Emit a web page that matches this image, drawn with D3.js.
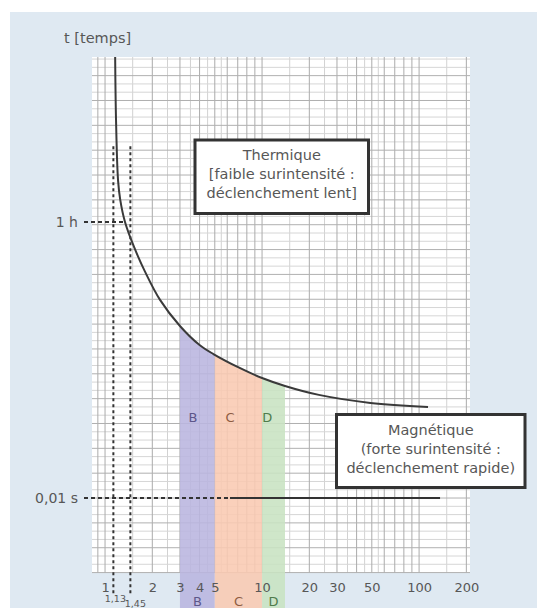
<!DOCTYPE html>
<html>
<head>
<meta charset="utf-8">
<script src="https://cdn.jsdelivr.net/npm/d3@7"></script>
<style>
body{margin:0;background:#fff}
svg{display:block}
text{font-family:"DejaVu Sans",sans-serif;fill:#575757}
</style>
</head>
<body>
<div id="chart"></div>
<script>
// courbe de declenchement : courant (multiple de In) / temps (s)
var courant = [1.16, 1.175, 1.21, 1.25, 1.34, 1.53, 1.8, 2.24, 3, 4, 4.9, 7.2, 10, 14, 23, 49, 114];
var temps   = [7.5e6, 4e5, 2.5e4, 1e4, 3600, 1130, 355, 97, 29, 12, 7.9, 4.15, 2.6, 1.8, 1.19, 0.82, 0.68];

var courbes      = ["B", "C", "D"];
var courbeMin    = [3, 5, 10];
var courbeMax    = [5, 10, 14];
var courbeLabel  = [3.63, 6.25, 10.8];
var couleurs     = ["#b9b5df", "#f9c9b2", "#c8e3c2"];
var couleursText = ["#5d578a", "#8d5c42", "#4f7b4b"];

var xTicks = [1, 2, 3, 4, 5, 10, 20, 30, 50, 100, 200];
var seuils = [1.13, 1.45];
var seuilLabels = ["1,13", "1,45"];
var yTicks = [3600, 0.01];
var yLabels = ["1 h", "0,01 s"];
var magnetique = [6.25, 136];   // partie pleine du trait 0,01 s

var W = 537, H = 608;
var svg = d3.select("#chart").append("svg")
	.attr("width", W)
	.attr("height", H);

svg.append("rect")
	.attr("x", 10).attr("y", 12)
	.attr("width", W - 10).attr("height", H - 12)
	.attr("fill", "#dfe9f2");

var x = d3.scaleLog().domain([0.826, 211]).range([92, 470]);
var y = d3.scaleLog().domain([3.1e-4, 7.5e6]).range([573, 57]);

// papier log
svg.append("rect")
	.attr("x", 92).attr("y", 57)
	.attr("width", 378).attr("height", 516)
	.attr("fill", "#fff");

function mant(d){ return d / Math.pow(10, Math.floor(Math.log10(d) + 1e-9)); }

var xMaj = x.ticks();
var xMin = [];
xMaj.forEach(function(d){
	var m = mant(d);
	if (m < 6) xMin.push(d * (m + 0.5) / m);
});
xMin = xMin.filter(function(d){ return d < 211; });

// trame horizontale : demi-decades + sixiemes
var lo = Math.log10(3.1e-4), hi = Math.log10(7.5e6);
var yMaj = [], yMin = [];
for (var k = Math.ceil(lo * 6); k <= Math.floor(hi * 6); k++) {
	if (k % 3 === 0) yMaj.push(Math.pow(10, k / 6));
	else yMin.push(Math.pow(10, k / 6));
}

var grid = svg.append("g").attr("class", "grid");
grid.selectAll(".vmin").data(xMin).enter().append("line")
	.attr("x1", d => x(d)).attr("x2", d => x(d))
	.attr("y1", 57).attr("y2", 573)
	.attr("stroke", "#d2d2d2").attr("stroke-width", 1);
grid.selectAll(".hmin").data(yMin).enter().append("line")
	.attr("y1", d => y(d)).attr("y2", d => y(d))
	.attr("x1", 92).attr("x2", 470)
	.attr("stroke", "#d6d6d6").attr("stroke-width", 1);
grid.selectAll(".vmaj").data(xMaj).enter().append("line")
	.attr("x1", d => x(d)).attr("x2", d => x(d))
	.attr("y1", 57).attr("y2", 573)
	.attr("stroke", "#ababab").attr("stroke-width", 1);
grid.selectAll(".hmaj").data(yMaj).enter().append("line")
	.attr("y1", d => y(d)).attr("y2", d => y(d))
	.attr("x1", 92).attr("x2", 470)
	.attr("stroke", "#b0b0b0").attr("stroke-width", 1);

var pts = courant.map(function(c, i){ return [c, temps[i]]; });

// zones B C D sous la courbe
var aire = d3.area()
	.x(d => x(d[0]))
	.y0(H)
	.y1(d => y(d[1]))
	.curve(d3.curveCatmullRom.alpha(0.5));

svg.append("clipPath").attr("id", "sous")
	.append("path").attr("d", aire(pts));

svg.append("g").attr("clip-path", "url(#sous)")
	.selectAll("rect").data(courbes).enter().append("rect")
	.attr("x", (d, i) => x(courbeMin[i]))
	.attr("width", (d, i) => x(courbeMax[i]) - x(courbeMin[i]))
	.attr("y", 0).attr("height", H)
	.attr("fill", (d, i) => couleurs[i])
	.attr("fill-opacity", 0.88);

svg.selectAll(".lbl").data(courbes).enter().append("text")
	.attr("x", (d, i) => x(courbeLabel[i]))
	.attr("y", 422)
	.attr("text-anchor", "middle")
	.style("font-size", "13px")
	.style("fill", (d, i) => couleursText[i])
	.text(d => d);

svg.selectAll(".lbl2").data(courbes).enter().append("text")
	.attr("x", (d, i) => x(Math.sqrt(courbeMin[i] * courbeMax[i])))
	.attr("y", 606)
	.attr("text-anchor", "middle")
	.style("font-size", "13px")
	.style("fill", (d, i) => couleursText[i])
	.text(d => d);

// reperes pointilles
svg.selectAll(".seuil").data(seuils).enter().append("line")
	.attr("x1", d => x(d)).attr("x2", d => x(d))
	.attr("y1", y(1.2e5)).attr("y2", 596)
	.attr("stroke", "#333").attr("stroke-width", 2)
	.attr("stroke-dasharray", "3,3");

svg.append("line")
	.attr("x1", 84).attr("x2", x(courant[4]))
	.attr("y1", y(3600)).attr("y2", y(3600))
	.attr("stroke", "#333").attr("stroke-width", 2)
	.attr("stroke-dasharray", "4,3");

svg.append("line")
	.attr("x1", 84).attr("x2", x(magnetique[0]))
	.attr("y1", y(0.01)).attr("y2", y(0.01))
	.attr("stroke", "#333").attr("stroke-width", 2)
	.attr("stroke-dasharray", "4,3");
svg.append("line")
	.attr("x1", x(magnetique[0])).attr("x2", x(magnetique[1]))
	.attr("y1", y(0.01)).attr("y2", y(0.01))
	.attr("stroke", "#333").attr("stroke-width", 2);

// courbe thermique
var ligne = d3.line()
	.x(d => x(d[0]))
	.y(d => y(d[1]))
	.curve(d3.curveCatmullRom.alpha(0.5));

svg.append("path")
	.attr("d", ligne(pts))
	.attr("fill", "none")
	.attr("stroke", "#3a3a3a")
	.attr("stroke-width", 2);

// axes
var xAxis = d3.axisBottom(x).tickValues(xTicks).tickFormat(d3.format("d")).tickSize(0).tickPadding(10);
var gx = svg.append("g").attr("transform", "translate(0,573)").call(xAxis);
gx.select(".domain").remove();
gx.selectAll("text").style("font-size", "13px").style("fill", "#575757").style("font-family", "DejaVu Sans");

var yAxis = d3.axisLeft(y).tickValues(yTicks)
	.tickFormat((d, i) => yLabels[i]).tickSize(0).tickPadding(3);
var gy = svg.append("g").attr("transform", "translate(81,0)").call(yAxis);
gy.select(".domain").remove();
gy.selectAll("text").style("font-size", "14px").style("fill", "#575757").style("font-family", "DejaVu Sans");

svg.selectAll(".slbl").data(seuils).enter().append("text")
	.attr("x", (d, i) => x(d) + (i ? 5 : 2))
	.attr("y", (d, i) => 602 + i * 5)
	.attr("text-anchor", "middle")
	.style("font-size", "9.5px")
	.text((d, i) => seuilLabels[i]);

svg.append("text")
	.attr("x", 64).attr("y", 43)
	.style("font-size", "14.5px")
	.text("t [temps]");

// cadres
function cadre(x0, y0, w, h, lignes, ty){
	svg.append("rect")
		.attr("x", x0).attr("y", y0)
		.attr("width", w).attr("height", h)
		.attr("fill", "#fff")
		.attr("stroke", "#333")
		.attr("stroke-width", 3);
	svg.append("g").selectAll("text").data(lignes).enter().append("text")
		.attr("x", x0 + w / 2)
		.attr("y", (d, i) => ty + i * 19)
		.attr("text-anchor", "middle")
		.style("font-size", "14.5px")
		.text(d => d);
}
cadre(195, 140, 173.5, 73.5, ["Thermique", "[faible surintensité :", "déclenchement lent]"], 160);
cadre(336.5, 414.5, 188.5, 73, ["Magnétique", "(forte surintensité :", "déclenchement rapide)"], 435);
</script>
</body>
</html>
